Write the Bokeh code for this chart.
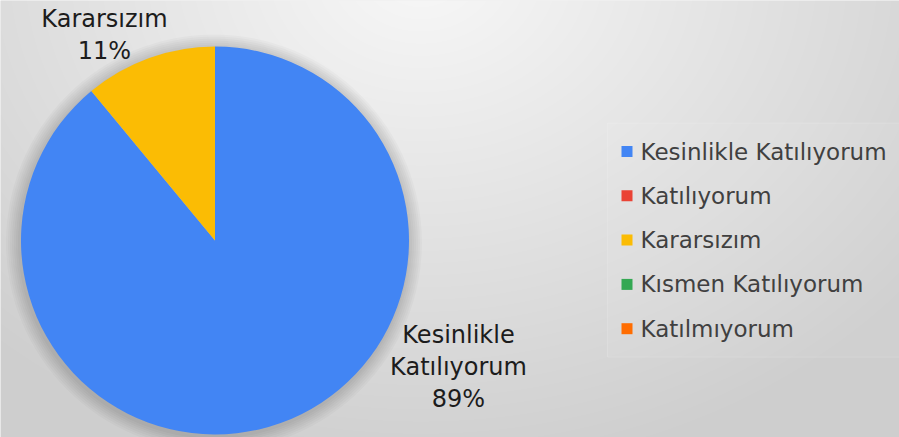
import numpy as np
from bokeh.plotting import figure
from bokeh.models import Range1d, ColumnDataSource
from bokeh.embed import file_html
from bokeh.resources import INLINE
from bokeh.core.properties import value

# ---- data ----
categories = ["Kesinlikle Katılıyorum", "Katılıyorum", "Kararsızım",
              "Kısmen Katılıyorum", "Katılmıyorum"]
values = [89, 0, 11, 0, 0]
colors = ["#4285F4", "#EA4335", "#FBBC04", "#34A853", "#FF6D01"]

# ---- layout (pixels of the plot area) ----
W, H = 899, 437
CX, CY, R = 214.5, 197.0, 194.0
FONT = value("DejaVu Sans")
label_anchor = {"Kesinlikle Katılıyorum": (458, 103, "two"),
                "Kararsızım": (104, 419, "one")}
LINE_STEP = 32

p = figure(width=W, height=H, x_range=Range1d(0, W), y_range=Range1d(0, H),
           output_backend="svg", toolbar_location=None, min_border=0,
           x_axis_type=None, y_axis_type=None)
p.grid.visible = False
p.outline_line_color = None
p.background_fill_color = "#e4e4e4"
p.border_fill_color = "#e4e4e4"

# background gradient (light near top middle, grey at the edges)
yy, xx = np.mgrid[0:H, 0:W]
rx = xx.astype(float)
ry = (H - 1.0) - yy
d = np.sqrt((rx - 420.0) ** 2 + ((ry + 30.0) * 1.25) ** 2)
t = np.clip(d / 640.0, 0, 1)
g = (248 - t * (248 - 206)).astype(np.uint32)
img = (np.uint32(255) << 24) | (g << 16) | (g << 8) | g
p.image_rgba(image=[img.astype(np.uint32)], x=0, y=0, dw=W, dh=H)

# soft shadow round the pie
for k in range(2, 16, 2):
    p.circle(x=CX - 1, y=CY - 2, radius=R + k, fill_color="black",
             fill_alpha=0.022, line_color=None)

# ---- pie ----
total = float(sum(values))
starts, ends, cols, names = [], [], [], []
cum = 0.0
for c, v, col in zip(categories, values, colors):
    if v > 0:
        a0 = np.pi / 2 - 2 * np.pi * cum / total
        a1 = np.pi / 2 - 2 * np.pi * (cum + v) / total
        starts.append(a0)
        ends.append(a1)
        cols.append(col)
        names.append(c)
    cum += v
src = ColumnDataSource(dict(start=starts, end=ends, color=cols, name=names))
p.wedge(x=CX, y=CY, radius=R, start_angle="start", end_angle="end",
        direction="clock", fill_color="color", line_color=None, source=src)

# ---- data labels ----
for c, v in zip(categories, values):
    if v <= 0 or c not in label_anchor:
        continue
    x0, y0, mode = label_anchor[c]
    pct = f"{round(100 * v / total)}%"
    lines = c.split(" ") if mode == "two" else [c]
    lines = lines + [pct]
    for i, ln in enumerate(lines):
        p.text(x=[x0], y=[y0 - i * LINE_STEP], text=[ln], text_font=FONT,
               text_font_size="24px", text_color="#1c1c1c",
               text_align="center", text_baseline="alphabetic")

# ---- legend ----
LX_SQ, LX_TX, LY0, LSTEP = 626.5, 640, 286, 44.3
p.rect(x=607 + 146, y=LY0 - 2 * LSTEP, width=292, height=234,
       fill_color="white", fill_alpha=0.06, line_color="white", line_alpha=0.15)
ly = [LY0 - i * LSTEP for i in range(len(categories))]
p.rect(x=[LX_SQ] * len(categories), y=ly, width=11, height=11,
       fill_color=colors, line_color=None)
p.text(x=[LX_TX] * len(categories), y=ly, text=categories, text_font=FONT,
       text_font_size="23px", text_color="#404040", text_align="left",
       text_baseline="middle")

open("out.html", "w").write(file_html(p, INLINE))
